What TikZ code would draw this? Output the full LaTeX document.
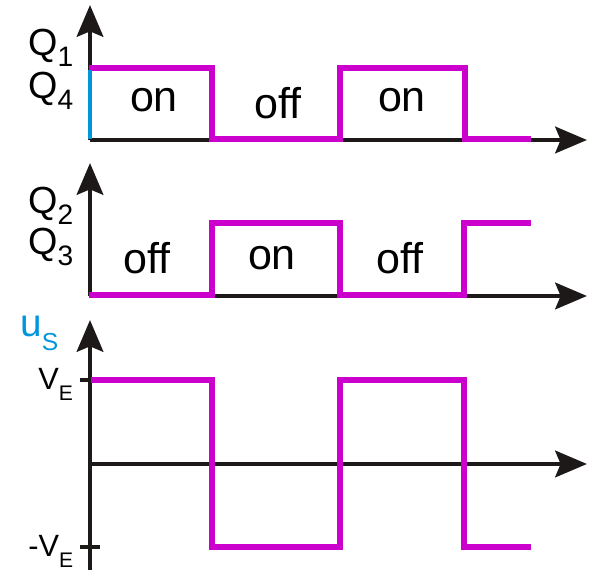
\documentclass[tikz,border=0pt]{standalone}
\usepackage{fontspec}
\setmainfont{Liberation Sans}[Ligatures=CommonOff]
\usetikzlibrary{arrows.meta}

\definecolor{pulse}{RGB}{204,0,204}
\definecolor{signalblue}{RGB}{0,150,220}
\definecolor{axisblack}{RGB}{30,25,25}

% lowered index in a smaller size
\newcommand{\lowidx}[2]{\raisebox{-#2}{#1}}

\begin{document}
\begin{tikzpicture}[x=0.02cm, y=0.02cm,
  axis/.style={line width=2.8pt, draw=axisblack, -{Stealth[length=18pt, width=15pt, inset=3pt]}},
  tick/.style={line width=2.4pt, draw=axisblack},
  wave/.style={line width=3.8pt, draw=pulse, line join=miter},
  state/.style={font=\fontsize{24.5}{24.5}\selectfont},
  qlabel/.style={anchor=base west, inner sep=0pt, font=\fontsize{21.5}{21.5}\selectfont},
  vlabel/.style={anchor=base west, inner sep=0pt, font=\fontsize{17.5}{17.5}\selectfont}
]
\useasboundingbox (0,0) rectangle (596,570);

% Q1 / Q4
\draw[axis] (90,430) -- (90,565);
\draw[axis] (90,430) -- (587,430);
\draw[wave] (89,502) -- (212,502) -- (212,431) -- (340,431) -- (340,502) -- (465,502) -- (465,431) -- (531,431);
\draw[line width=2.3pt, draw=signalblue] (90,431) -- (90,500);
\node[qlabel] (q1) at (28,514) {Q\lowidx{\fontsize{16}{16}\selectfont 1}{0.28em}};
\node[qlabel] (q4) at (28,471) {Q\lowidx{\fontsize{16}{16}\selectfont 4}{0.28em}};
\node[state] (on1) at (154,470) {on};
\node[state] (off1) at (278,467) {off};
\node[state] (on2) at (402,470) {on};

% Q2 / Q3
\draw[axis] (90,274) -- (90,407);
\draw[axis] (90,274) -- (587,274);
\draw[wave] (89,275) -- (212,275) -- (212,347) -- (340,347) -- (340,275) -- (464,275) -- (464,347) -- (531,347);
\node[qlabel] (q2) at (28,356) {Q\lowidx{\fontsize{16}{16}\selectfont 2}{0.28em}};
\node[qlabel] (q3) at (28,315) {Q\lowidx{\fontsize{16}{16}\selectfont 3}{0.28em}};
\node[state] (off2) at (147,312) {off};
\node[state] (on3) at (272,312) {on};
\node[state] (off3) at (400,312) {off};

% uS
\draw[axis] (90,0) -- (90,250);
\draw[axis] (90,106) -- (587,106);
\draw[tick] (80,190) -- (90,190);
\draw[tick] (80,23) -- (100,23);
\draw[wave] (91,190) -- (212,190) -- (212,23) -- (340,23) -- (340,190) -- (464,190) -- (464,23) -- (531,23);
\node[anchor=base west, inner sep=0pt, text=signalblue, font=\fontsize{22}{22}\selectfont] (us) at (20,233) {u\lowidx{\fontsize{14}{14}\selectfont S}{0.34em}};
\node[vlabel] (ve) at (38,180) {V\lowidx{\fontsize{12}{12}\selectfont E}{0.33em}};
\node[vlabel] (mve) at (28,13) {-V\lowidx{\fontsize{12}{12}\selectfont E}{0.33em}};

\end{tikzpicture}
\end{document}
